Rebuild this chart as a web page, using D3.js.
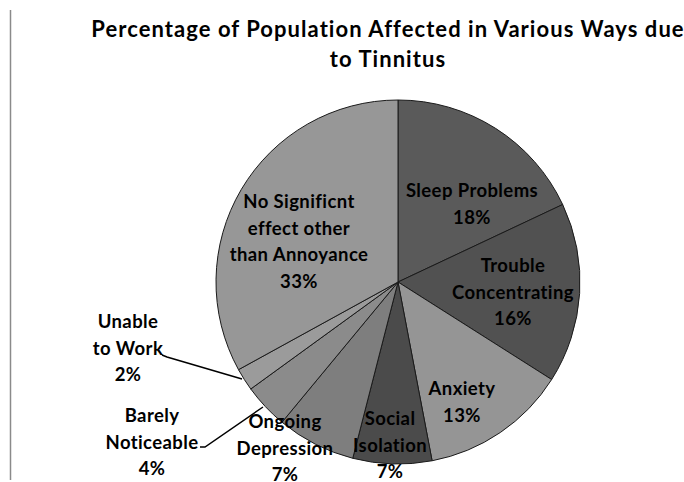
<!DOCTYPE html>
<html>
<head>
<meta charset="utf-8">
<script src="https://cdn.jsdelivr.net/npm/d3@7/dist/d3.min.js"></script>
<style>
  html, body { margin: 0; padding: 0; background: #ffffff; }
  svg { display: block; }
</style>
</head>
<body>
<script>
// ---- data ----
const categories = ["Sleep Problems", "Trouble Concentrating", "Anxiety", "Social Isolation",
  "Ongoing Depression", "Barely Noticeable", "Unable to Work", "No Significnt effect other than Annoyance"];
const values = [18, 16, 13, 7, 7, 4, 2, 33];
const labelLines = [
  ["Sleep Problems"],
  ["Trouble", "Concentrating"],
  ["Anxiety"],
  ["Social", "Isolation"],
  ["Ongoing", "Depression"],
  ["Barely", "Noticeable"],
  ["Unable", "to Work"],
  ["No Significnt", "effect other", "than Annoyance"]
];
const titleLines = ["Percentage of Population Affected in Various Ways due", "to Tinnitus"];

// ---- layout / style ----
const W = 684, H = 482;
const cx = 398, cy = 282, R = 182;
const fills = ["#5a5a5a", "#515151", "#959595", "#4b4b4b", "#7e7e7e", "#8b8b8b", "#9b9b9b", "#979797"];
// label block: centre x offset, first baseline y offset (relative to pie centre)
const labelLayout = [
  [74, -85], [115, -10], [64, 113], [-8, 143],
  [-113, 146], [-246, 140], [-270, 46], [-99, -74]
];
const leaders = [null, null, null, null, null,
  [[-198, 165], [-193, 165], [-135, 125]],
  [[-236, 73], [-231, 75], [-156, 97]],
  null];
const lineH = 26.5;
const font = "Lato, 'Open Sans', sans-serif";

const svg = d3.select("body").append("svg").attr("width", W).attr("height", H);

svg.append("line").attr("x1", 10.5).attr("x2", 10.5).attr("y1", 10).attr("y2", 480)
  .attr("stroke", "#8a8a8a").attr("stroke-width", 1.5);

svg.append("g").selectAll("text").data(titleLines).join("text")
  .attr("x", 388).attr("y", (d, i) => 37 + i * 30)
  .attr("text-anchor", "middle")
  .attr("font-family", font).attr("font-weight", "bold").attr("font-size", 22)
  .attr("letter-spacing", 1.05)
  .attr("fill", "#000").text(d => d);

const pie = d3.pie().sort(null).value(d => d)(values);
const arc = d3.arc().innerRadius(0).outerRadius(R);

const g = svg.append("g").attr("transform", `translate(${cx},${cy})`);
g.selectAll("path").data(pie).join("path")
  .attr("d", arc)
  .attr("fill", (d, i) => fills[i])
  .attr("stroke", "#1a1a1a").attr("stroke-width", 1);

// leader lines
g.selectAll("polyline").data(leaders.filter(d => d)).join("polyline")
  .attr("points", d => d.map(p => p.join(",")).join(" "))
  .attr("fill", "none").attr("stroke", "#000").attr("stroke-width", 1.5);

// labels
const lab = g.selectAll("text.lab").data(pie).join("text").attr("class", "lab")
  .attr("text-anchor", "middle")
  .attr("font-family", font).attr("font-weight", "bold").attr("font-size", 18.5)
  .attr("letter-spacing", 0.4)
  .attr("fill", "#000");
lab.each(function(d, i) {
  const t = d3.select(this);
  const [lx, ly] = labelLayout[i];
  const lines = labelLines[i].concat([values[i] + "%"]);
  lines.forEach((s, k) => {
    t.append("tspan").attr("x", lx).attr("y", ly + k * lineH).text(s);
  });
});
</script>
</body>
</html>
